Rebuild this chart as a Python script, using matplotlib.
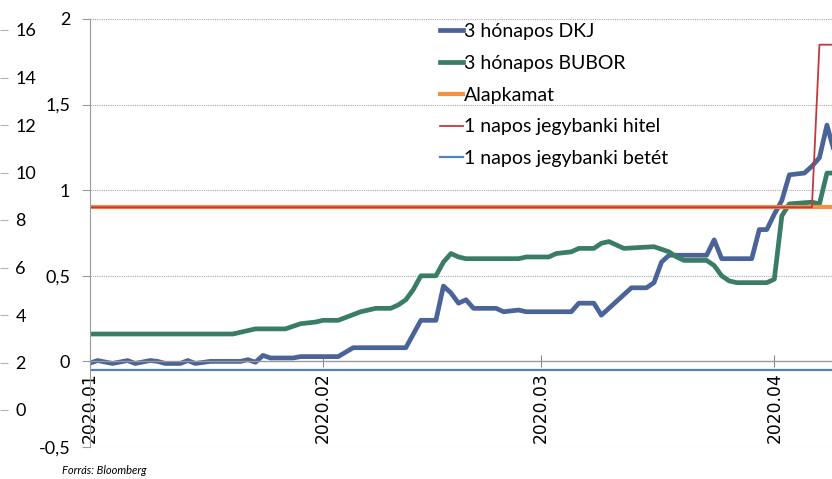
import pandas as pd
import matplotlib
matplotlib.use('Agg')
import matplotlib.pyplot as plt
import matplotlib.dates as mdates
from matplotlib.transforms import ScaledTranslation

# 3 hónapos DKJ (%) at its break points
dkj_dates = ['2020-01-01', '2020-01-02', '2020-01-04', '2020-01-06', '2020-01-07',
             '2020-01-09', '2020-01-10', '2020-01-11', '2020-01-13', '2020-01-14',
             '2020-01-15', '2020-01-17', '2020-01-21', '2020-01-22', '2020-01-23',
             '2020-01-24', '2020-01-25', '2020-01-28', '2020-01-29', '2020-02-03',
             '2020-02-05', '2020-02-12', '2020-02-14', '2020-02-16', '2020-02-17',
             '2020-02-18', '2020-02-19', '2020-02-20', '2020-02-21', '2020-02-24',
             '2020-02-25', '2020-02-27', '2020-02-28', '2020-03-05', '2020-03-06',
             '2020-03-08', '2020-03-09', '2020-03-13', '2020-03-15', '2020-03-16',
             '2020-03-17', '2020-03-18', '2020-03-23', '2020-03-24', '2020-03-25',
             '2020-03-29', '2020-03-30', '2020-03-31', '2020-04-01', '2020-04-02',
             '2020-04-03', '2020-04-05', '2020-04-06', '2020-04-07', '2020-04-08',
             '2020-04-09']
dkj_values = [-0.01, 0.005, -0.012, 0.005, -0.012,
              0.005, 0.0, -0.012, -0.012, 0.005,
              -0.012, 0.0, 0.0, 0.01, -0.005,
              0.035, 0.02, 0.02, 0.028, 0.028,
              0.08, 0.08, 0.24, 0.24, 0.44,
              0.40, 0.34, 0.36, 0.31, 0.31,
              0.29, 0.30, 0.29, 0.29, 0.34,
              0.34, 0.27, 0.43, 0.43, 0.46,
              0.58, 0.62, 0.62, 0.71, 0.60,
              0.60, 0.77, 0.77, 0.86, 0.94,
              1.09, 1.10, 1.14, 1.19, 1.38,
              1.22]

# 3 hónapos BUBOR (%)
bubor_dates = ['2020-01-01', '2020-01-20', '2020-01-23', '2020-01-27', '2020-01-29',
               '2020-01-31', '2020-02-01', '2020-02-03', '2020-02-06', '2020-02-08',
               '2020-02-10', '2020-02-11', '2020-02-12', '2020-02-13', '2020-02-14',
               '2020-02-16', '2020-02-17', '2020-02-18', '2020-02-19', '2020-02-20',
               '2020-02-27', '2020-02-28', '2020-03-02', '2020-03-03', '2020-03-05',
               '2020-03-06', '2020-03-08', '2020-03-09', '2020-03-10', '2020-03-11',
               '2020-03-12', '2020-03-16', '2020-03-18', '2020-03-19', '2020-03-20',
               '2020-03-23', '2020-03-24', '2020-03-25', '2020-03-26', '2020-03-27',
               '2020-03-31', '2020-04-01', '2020-04-02', '2020-04-03', '2020-04-06',
               '2020-04-07', '2020-04-08', '2020-04-09']
bubor_values = [0.16, 0.16, 0.19, 0.19, 0.22,
                0.23, 0.24, 0.24, 0.29, 0.31,
                0.31, 0.33, 0.36, 0.42, 0.50,
                0.50, 0.58, 0.63, 0.61, 0.60,
                0.60, 0.61, 0.61, 0.63, 0.64,
                0.66, 0.66, 0.69, 0.70, 0.68,
                0.66, 0.67, 0.64, 0.61, 0.59,
                0.59, 0.56, 0.50, 0.47, 0.46,
                0.46, 0.48, 0.85, 0.92, 0.93,
                0.92, 1.10, 1.10]

# central bank rates (%)
rate_dates = ['2020-01-01', '2020-04-06', '2020-04-07', '2020-04-09']
base_rate = [0.9, 0.9, 0.9, 0.9]
lending_rate = [0.9, 0.9, 1.85, 1.85]
deposit_rate = [-0.05, -0.05, -0.05, -0.05]

y_ticks = [-0.5, 0, 0.5, 1, 1.5, 2]
y_labels = ['-0,5', '0', '0,5', '1', '1,5', '2']
left_ticks = [0, 2, 4, 6, 8, 10, 12, 14, 16]
month_ticks = ['2020-01-01', '2020-02-01', '2020-03-01', '2020-04-01']

W, H = 832, 479
fig = plt.figure(figsize=(W / 100, H / 100), dpi=100)

# main panel
ax = fig.add_axes([90 / W, 32 / H, 742 / W, 428 / H])
ax.plot(pd.to_datetime(dkj_dates), dkj_values, color='#4a6398', lw=3.4,
        solid_joinstyle='round', label='3 hónapos DKJ')
ax.plot(pd.to_datetime(bubor_dates), bubor_values, color='#3a7d66', lw=3.4,
        solid_joinstyle='round', label='3 hónapos BUBOR')
ax.plot(pd.to_datetime(rate_dates), base_rate, color='#f7913f', lw=3.0,
        label='Alapkamat')
ax.plot(pd.to_datetime(rate_dates), lending_rate, color='#c0393b', lw=1.3,
        label='1 napos jegybanki hitel')
ax.plot(pd.to_datetime(rate_dates), deposit_rate, color='#4f81bd', lw=1.6,
        label='1 napos jegybanki betét')

x0 = mdates.date2num(pd.Timestamp('2020-01-01'))
ax.set_xlim(x0, x0 + 742 / 7.52)
ax.set_ylim(-0.5, 2)

ax.set_yticks(y_ticks)
ax.set_yticklabels(y_labels, family='Lato', fontsize=13)
ax.tick_params(axis='y', direction='out', length=5.8, width=0.8,
               color='#9a9a9a', pad=8.5)
for v in [-0.5, 0.5, 1, 1.5, 2]:
    ax.axhline(v, color='#a8a8a8', lw=0.8, ls=(0, (1, 1)), zorder=0)

ax.set_xticks(pd.to_datetime(month_ticks))
ax.xaxis.set_major_formatter(mdates.DateFormatter('%Y.%m'))
ax.tick_params(axis='x', direction='inout', length=8.6, width=0.8,
               color='#8a8a8a', pad=3.6, labelsize=12.3, labelrotation=90)
offset = ScaledTranslation(5 / 100, 0, fig.dpi_scale_trans)
for lab in ax.get_xticklabels():
    lab.set_transform(lab.get_transform() + offset)
    lab.set_family('DejaVu Sans')

for side in ['top', 'right']:
    ax.spines[side].set_visible(False)
ax.spines['bottom'].set_position(('data', 0))
ax.spines['bottom'].set_color('#9a9a9a')
ax.spines['left'].set_color('#9a9a9a')
ax.spines['bottom'].set_linewidth(1.0)
ax.spines['left'].set_linewidth(0.8)

ax.legend(loc='upper left', bbox_to_anchor=(440 / W, 1 - 23 / H),
          bbox_transform=fig.transFigure, frameon=False, borderpad=0,
          borderaxespad=0, handlelength=1.2, handletextpad=0.05,
          labelspacing=0.76, prop={'family': 'Lato', 'size': 14})

# leftover axis of the neighbouring chart
ax_l = fig.add_axes([0, 32 / H, 0.0005, 428 / H])
ax_l.set_ylim((410 - 447) / 23.75, (410 - 19) / 23.75)
ax_l.set_yticks(left_ticks)
ax_l.set_yticklabels([str(t) for t in left_ticks], family='Lato', fontsize=13)
ax_l.yaxis.tick_right()
ax_l.tick_params(axis='y', direction='out', length=5.8, width=0.8,
                 color='#b0b0b0', pad=5)
ax_l.set_xticks([])
for s in ax_l.spines.values():
    s.set_visible(False)
ax_l.patch.set_alpha(0)

fig.text(62 / W, 1 - 470 / H, 'Forrás: Bloomberg', family='Lato',
         style='italic', fontsize=8, va='center', ha='left')

fig.savefig('out.png', dpi=100)
